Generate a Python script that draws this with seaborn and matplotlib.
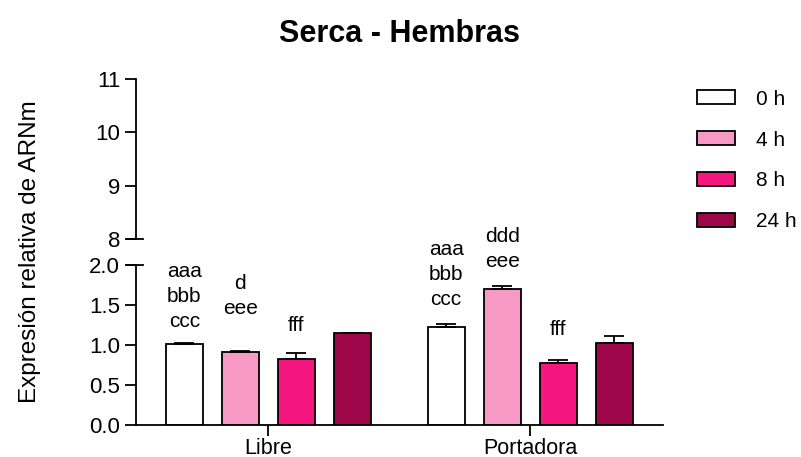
import matplotlib
matplotlib.use("Agg")
import matplotlib.pyplot as plt
import numpy as np
import pandas as pd
import seaborn as sns

# ---------------------------------------------------------------------
#  data
# ---------------------------------------------------------------------
grupos = ["Libre", "Portadora"]
tiempos = ["0 h", "4 h", "8 h", "24 h"]
libre_media = [1.01, 0.91, 0.825, 1.15]
libre_sem = [0.02, 0.02, 0.075, 0.005]
portadora_media = [1.23, 1.70, 0.78, 1.025]
portadora_sem = [0.03, 0.04, 0.03, 0.085]

# significance letters (text) and the height where each label sits
letras_libre = ["aaa\nbbb\nccc", "d\neee", "fff", ""]
letras_portadora = ["aaa\nbbb\nccc", "ddd\neee", "fff", ""]
altura_libre = [1.18, 1.34, 1.12, 0]
altura_portadora = [1.45, 1.92, 1.07, 0]

colores = ["#FFFFFF", "#F799C5", "#F5177F", "#9E064A"]

df = pd.DataFrame({
    "grupo": np.repeat(grupos, len(tiempos)),
    "tiempo": tiempos * len(grupos),
    "media": libre_media + portadora_media,
    "sem": libre_sem + portadora_sem,
})

plt.rcParams["font.family"] = ["Liberation Sans", "DejaVu Sans"]
fig = plt.figure(figsize=(8.01, 4.57), dpi=100)
ax_top = fig.add_axes([0.170, 0.477, 0.658, 0.350])
ax = fig.add_axes([0.170, 0.070, 0.658, 0.350])

sns.barplot(data=df, x="grupo", y="media", hue="tiempo", order=grupos,
            hue_order=tiempos, palette=colores, errorbar=None, width=0.855,
            gap=0.34, edgecolor="black", linewidth=1.3, saturation=1,
            ax=ax, legend=True)

# upper error bars and letters
sem_por_grupo = [libre_sem, portadora_sem]
letras = [letras_libre, letras_portadora]
alturas = [altura_libre, altura_portadora]
contenedores = list(ax.containers)
for j, cont in enumerate(contenedores):
    for i, bar in enumerate(cont):
        xc = bar.get_x() + bar.get_width() / 2
        h = bar.get_height()
        e = sem_por_grupo[i][j]
        ax.errorbar(xc, h, yerr=[[0], [e]], color="black", capsize=7,
                    elinewidth=1.3, capthick=1.3, zorder=1)
        if letras[i][j]:
            ax.text(xc, alturas[i][j], letras[i][j], ha="center", va="bottom",
                    fontsize=15, linespacing=1.4, clip_on=False)

ax.set_xlim(-0.504, 1.508)
ax.set_ylim(0, 2.0)
ax.set_yticks([0, 0.5, 1.0, 1.5, 2.0])
ax.set_yticklabels(["0.0", "0.5", "1.0", "1.5", "2.0"])
ax.set_xlabel("")
ax.set_ylabel("")
ax.spines[["top", "right"]].set_visible(False)
ax.tick_params(axis="both", labelsize=16, width=1.3, length=8)
ax.tick_params(axis="x", pad=1, labelsize=15.5)

ax_top.set_xlim(-0.504, 1.508)
ax_top.set_ylim(8, 11)
ax_top.set_yticks([8, 9, 10, 11])
ax_top.set_xticks([])
ax_top.spines[["top", "right", "bottom"]].set_visible(False)
ax_top.tick_params(axis="y", labelsize=16, width=1.3, length=8)
ax_top.patch.set_visible(False)

for a in (ax, ax_top):
    for s in a.spines.values():
        s.set_linewidth(1.3)

# axis-break marks
ax_top.plot([-0.017, 0.013], [0, 0], transform=ax_top.transAxes,
            color="black", lw=1.3, clip_on=False)
ax.plot([-0.017, 0.013], [1, 1], transform=ax.transAxes,
        color="black", lw=1.3, clip_on=False)

handles, labels = ax.get_legend_handles_labels()
ax.get_legend().remove()
fig.legend(handles, labels, loc="upper left", bbox_to_anchor=(0.860, 0.822),
           frameon=False, fontsize=15, handlelength=1.8, handleheight=0.65,
           handletextpad=1.0, labelspacing=1.05, borderaxespad=0)

fig.text(0.037, 0.45, "Expresión relativa de ARNm", rotation=90,
         ha="center", va="center", fontsize=17.5)
fig.text(0.499, 0.925, "Serca - Hembras", ha="center", va="center",
         fontsize=22, fontweight="bold")

fig.savefig("out.png", dpi=100)
